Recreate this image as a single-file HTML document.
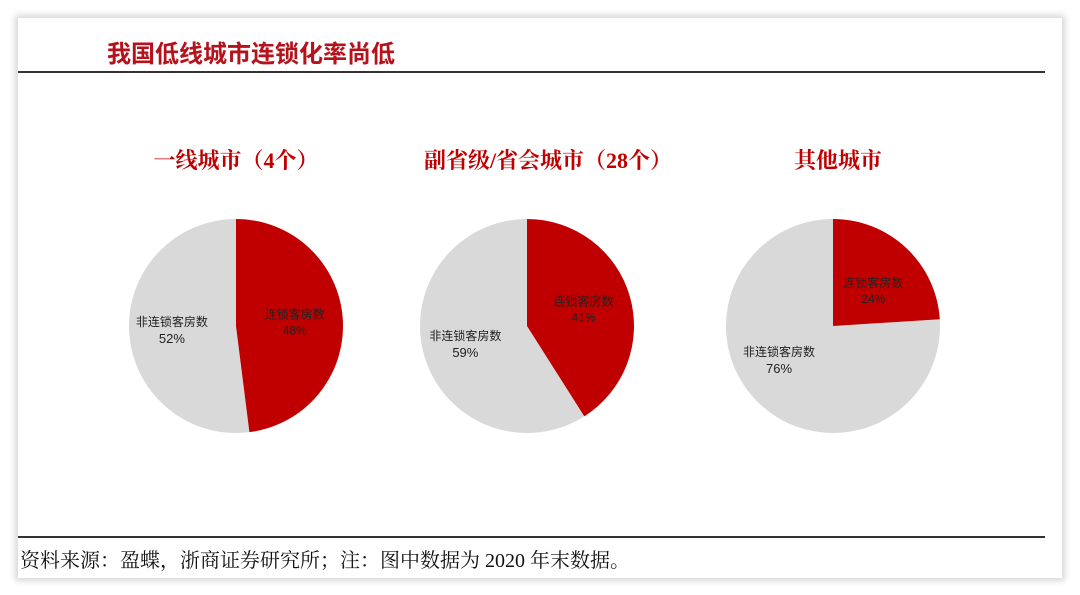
<!DOCTYPE html>
<html><head><meta charset="utf-8">
<style>
html,body{margin:0;padding:0;background:#fff;}
body{width:1080px;height:595px;position:relative;overflow:hidden;font-family:"Liberation Sans","Noto Sans CJK SC",sans-serif;}
#card{position:absolute;left:18px;top:18px;width:1044px;height:560px;background:#fff;box-shadow:0 0 6px 3px #d8d8d8;}
#title{position:absolute;left:107px;top:34px;font-size:24px;font-weight:bold;color:#b5121b;font-family:"Liberation Sans","Noto Sans CJK SC",sans-serif;}
.hr{position:absolute;left:18px;width:1027px;height:2px;background:#333;}
#footer{position:absolute;left:20px;top:544px;font-size:20px;color:#111;font-family:"Liberation Serif","Noto Serif CJK SC",serif;}
svg{position:absolute;left:0;top:0;}
</style></head><body>
<div id="card"></div>
<div id="title">我国低线城市连锁化率尚低</div>
<div class="hr" style="top:71px"></div>
<div class="hr" style="top:536px"></div>
<div id="footer">资料来源：盈蝶，浙商证券研究所；注：图中数据为 2020 年末数据。</div>
<svg id="chart" width="1080" height="595"></svg>
<script>
const titles = ["一线城市（4个）","副省级/省会城市（28个）","其他城市"];
const chainShare = [48, 41, 24];
const seriesNames = ["连锁客房数","非连锁客房数"];
const centersX = [236, 527, 833];
const titleX = [236, 548, 838];
const cy = 326, R = 107;
const NS = "http://www.w3.org/2000/svg";
const svg = document.getElementById('chart');
function pt(cx, a, r){ return [cx + r*Math.sin(a), cy - r*Math.cos(a)]; }
function slice(cx, a0, a1, fill){
  const p = document.createElementNS(NS,'path');
  const [x0,y0] = pt(cx,a0,R), [x1,y1] = pt(cx,a1,R);
  const large = (a1-a0) > Math.PI ? 1 : 0;
  p.setAttribute('d', `M${cx},${cy} L${x0},${y0} A${R},${R} 0 ${large} 1 ${x1},${y1} Z`);
  p.setAttribute('fill', fill);
  return p;
}
function txt(x,y,s,size,fill,weight,family){
  const t = document.createElementNS(NS,'text');
  t.setAttribute('x',x); t.setAttribute('y',y);
  t.setAttribute('text-anchor','middle');
  t.setAttribute('font-size',size);
  t.setAttribute('fill',fill);
  if(weight) t.setAttribute('font-weight',weight);
  t.setAttribute('font-family',family||'"Liberation Sans","Noto Sans CJK SC",sans-serif');
  t.textContent = s;
  return t;
}
chainShare.forEach((v,i)=>{
  const cx = centersX[i];
  const a = v/100*2*Math.PI;
  const tt = txt(titleX[i],168,titles[i],22,'#c00000','bold','"Liberation Serif","Noto Serif CJK SC",serif');
  
  
  svg.appendChild(tt);
  const g = slice(cx,a,2*Math.PI,'#d9d9d9');
  
  
  svg.appendChild(g);
  const r = slice(cx,0,a,'#c00000');
  
  
  svg.appendChild(r);
  let [rx,ry] = pt(cx,a/2,R*0.55);
  let [gx,gy] = pt(cx,a+(2*Math.PI-a)/2,R*0.6);
  if(i===2){ ry+=8; gx-=10; gy-=13; }
  const l1 = txt(rx,ry-4,seriesNames[0],12,'#222');
  
  
  svg.appendChild(l1);
  const p1 = txt(rx,ry+12,v+'%',12,'#222');
  
  
  svg.appendChild(p1);
  const l2 = txt(gx,gy-4,seriesNames[1],12,'#222');
  
  
  svg.appendChild(l2);
  const p2 = txt(gx,gy+13,(100-v)+'%',13,'#222');
  
  
  svg.appendChild(p2);
});
</script>
</body></html>
